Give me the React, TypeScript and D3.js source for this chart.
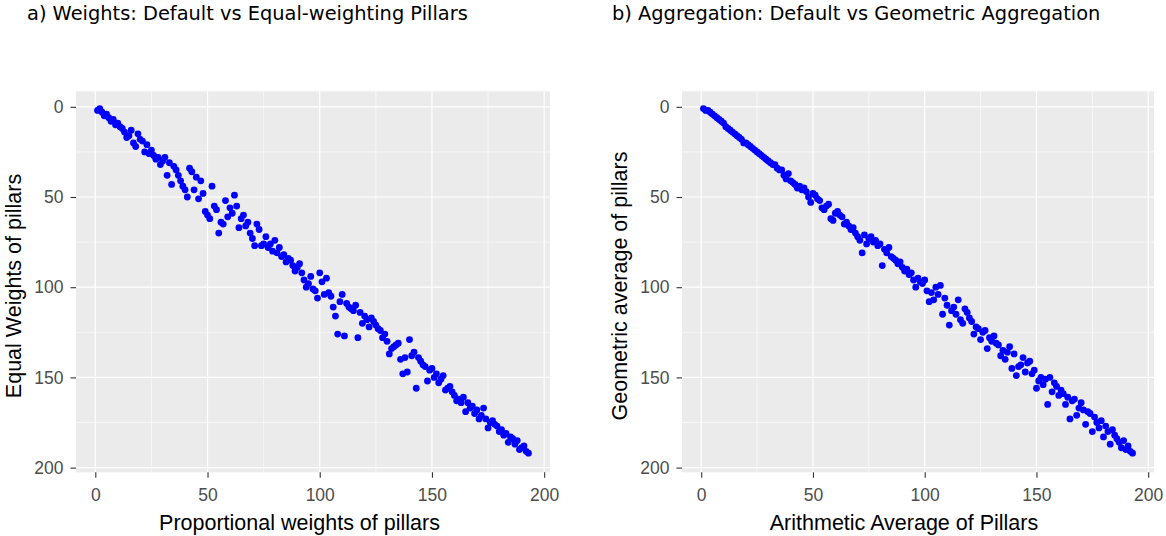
import { useRef, useEffect } from 'react'
import * as d3 from 'd3'

// rank of each country under the default (arithmetic, proportional) index
const defaultRanks = [
  1, 2, 3, 4, 5, 6, 7, 8, 9, 10, 11, 12, 13, 14, 15, 16, 17, 18, 19, 20,
  21, 22, 23, 24, 25, 26, 27, 28, 29, 30, 31, 32, 33, 34, 35, 36, 37, 38, 39, 40,
  41, 42, 43, 44, 45, 46, 47, 48, 49, 50, 51, 52, 53, 54, 55, 56, 57, 58, 59, 60,
  61, 62, 63, 64, 65, 66, 67, 68, 69, 70, 71, 72, 73, 74, 75, 76, 77, 78, 79, 80,
  81, 82, 83, 84, 85, 86, 87, 88, 89, 90, 91, 92, 93, 94, 95, 96, 97, 98, 99, 100,
  101, 102, 103, 104, 105, 106, 107, 108, 109, 110, 111, 112, 113, 114, 115, 116, 117, 118, 119, 120,
  121, 122, 123, 124, 125, 126, 127, 128, 129, 130, 131, 132, 133, 134, 135, 136, 137, 138, 139, 140,
  141, 142, 143, 144, 145, 146, 147, 148, 149, 150, 151, 152, 153, 154, 155, 156, 157, 158, 159, 160,
  161, 162, 163, 164, 165, 166, 167, 168, 169, 170, 171, 172, 173, 174, 175, 176, 177, 178, 179, 180,
  181, 182, 183, 184, 185, 186, 187, 188, 189, 190, 191, 192, 193,
]

// a) rank with equal-weighted pillars
const equalWeightRanks = [
  2, 1, 3, 5, 4, 6, 8, 7, 10, 9, 11, 12, 14, 17, 16, 13, 20, 22, 15, 18,
  19, 25, 21, 26, 24, 27, 29, 28, 32, 30, 28, 38, 31, 43, 33, 35, 38, 41, 44, 46,
  50, 34, 36, 46, 39, 51, 41, 48, 58, 60, 62, 44, 55, 57, 70, 64, 65, 52, 61, 56,
  59, 49, 55, 67, 62, 60, 66, 64, 70, 73, 77, 65, 68, 77, 76, 72, 78, 76, 80, 74,
  81, 78, 83, 82, 86, 84, 85, 88, 91, 89, 87, 92, 96, 100, 98, 94, 101, 102, 106, 92,
  97, 104, 95, 103, 105, 111, 116, 126, 108, 104, 127, 109, 111, 112, 113, 110, 128, 114, 120, 116,
  118, 122, 117, 119, 121, 123, 124, 128, 126, 130, 137, 134, 133, 132, 131, 140, 148, 139, 147, 129,
  138, 136, 156, 139, 141, 143, 144, 152, 146, 145, 150, 148, 153, 151, 149, 157, 156, 155, 158, 160,
  163, 162, 164, 161, 169, 164, 167, 166, 170, 168, 173, 171, 167, 173, 178, 175, 174, 176, 177, 180,
  179, 182, 181, 186, 183, 184, 187, 185, 190, 189, 188, 191, 192,
]

// b) rank with geometric aggregation
const geometricRanks = [
  1, 2, 2, 3, 4, 5, 6, 7, 8, 9, 11, 12, 13, 14, 15, 16, 17, 18, 20, 20,
  21, 22, 23, 24, 25, 26, 27, 28, 29, 30, 31, 32, 32, 34, 35, 35, 38, 40, 37, 41,
  42, 43, 45, 44, 46, 45, 47, 50, 53, 48, 49, 51, 52, 56, 57, 55, 54, 62, 63, 59,
  58, 60, 61, 65, 64, 66, 68, 67, 70, 72, 74, 81, 71, 76, 73, 72, 75, 74, 77, 76,
  88, 79, 81, 78, 83, 84, 85, 87, 86, 89, 91, 90, 93, 92, 96, 100, 95, 97, 98, 96,
  102, 108, 103, 107, 100, 104, 99, 115, 106, 110, 121, 113, 111, 115, 107, 118, 120, 112, 114, 117,
  119, 126, 122, 123, 129, 125, 124, 134, 128, 130, 127, 131, 132, 138, 135, 140, 136, 133, 145, 137,
  149, 144, 143, 139, 147, 142, 141, 148, 146, 156, 152, 150, 154, 151, 165, 150, 158, 153, 155, 160,
  157, 159, 165, 161, 173, 163, 162, 171, 167, 164, 168, 176, 169, 170, 180, 172, 175, 178, 174, 183,
  177, 180, 187, 179, 182, 184, 186, 189, 185, 190, 188, 191, 192,
]

const majorTicks = [0, 50, 100, 150, 200]
const minorTicks = [25, 75, 125, 175]

const titles = [
  "a) Weights: Default vs Equal-weighting Pillars",
  "b) Aggregation: Default vs Geometric Aggregation",
]
const xTitles = ["Proportional weights of pillars", "Arithmetic Average of Pillars"]
const yTitles = ["Equal Weights of pillars", "Geometric average of pillars"]

const App = () => {
  const svgRef = useRef<SVGSVGElement>(null)

  useEffect(() => {
    const width = 1166
    const height = 536
    const svg = d3.select(svgRef.current)
    svg.selectAll("*").remove()

    const top = 91.3
    const bottom = 472.3
    const panels = [
      { left: 76, right: 550, titleX: 27, yTitleX: 21, xTitleX: 299.5, ys: equalWeightRanks },
      { left: 682, right: 1154, titleX: 612, yTitleX: 627, xTitleX: 904, ys: geometricRanks },
    ]
    const domain = [-8.6, 202.6] // ggplot's 5% expansion of 1..193

    panels.forEach((p, k) => {
      const x = d3.scaleLinear().domain(domain).range([p.left, p.right])
      const y = d3.scaleLinear().domain(domain).range([top, bottom]) // reversed: 0 on top
      const g = svg.append("g")

      // title
      g.append("text")
        .attr("x", p.titleX)
        .attr("y", 20)
        .attr("font-family", "'DejaVu Sans', Verdana, sans-serif")
        .attr("font-size", 19.4)
        .attr("fill", "#000")
        .text(titles[k])

      // panel background
      g.append("rect")
        .attr("x", p.left)
        .attr("y", top)
        .attr("width", p.right - p.left)
        .attr("height", bottom - top)
        .attr("fill", "#ebebeb")

      // minor grid
      const grid = g.append("g").attr("stroke", "#fff")
      grid.selectAll(".vminor").data(minorTicks).join("line")
        .attr("x1", d => x(d)).attr("x2", d => x(d))
        .attr("y1", top).attr("y2", bottom)
        .attr("stroke-width", 0.6)
      grid.selectAll(".hminor").data(minorTicks).join("line")
        .attr("y1", d => y(d)).attr("y2", d => y(d))
        .attr("x1", p.left).attr("x2", p.right)
        .attr("stroke-width", 0.6)
      // major grid
      grid.append("g").selectAll("line").data(majorTicks).join("line")
        .attr("x1", d => x(d)).attr("x2", d => x(d))
        .attr("y1", top).attr("y2", bottom)
        .attr("stroke-width", 1.2)
      grid.append("g").selectAll("line").data(majorTicks).join("line")
        .attr("y1", d => y(d)).attr("y2", d => y(d))
        .attr("x1", p.left).attr("x2", p.right)
        .attr("stroke-width", 1.2)

      // points
      g.append("g")
        .selectAll("circle")
        .data(defaultRanks)
        .join("circle")
        .attr("cx", d => x(d))
        .attr("cy", (d, i) => y(p.ys[i]))
        .attr("r", 3.4)
        .attr("fill", "#0000ff")

      // x axis
      g.append("g")
        .attr("transform", `translate(0, ${bottom})`)
        .call(d3.axisBottom(x).tickValues(majorTicks).tickSize(5.5).tickPadding(11))
        .call(a => a.select(".domain").remove())
        .call(a => a.selectAll(".tick line").attr("stroke", "#333").attr("stroke-width", 1.1))
        .selectAll("text")
          .attr("fill", "#4d4d4d")
          .attr("font-family", "'Liberation Sans', Arial, sans-serif")
          .attr("font-size", 17.5)

      // y axis
      g.append("g")
        .attr("transform", `translate(${p.left}, 0)`)
        .call(d3.axisLeft(y).tickValues(majorTicks).tickSize(5.5).tickPadding(7))
        .call(a => a.select(".domain").remove())
        .call(a => a.selectAll(".tick line").attr("stroke", "#333").attr("stroke-width", 1.1))
        .selectAll("text")
          .attr("fill", "#4d4d4d")
          .attr("font-family", "'Liberation Sans', Arial, sans-serif")
          .attr("font-size", 17.5)

      // axis titles
      g.append("text")
        .attr("x", p.xTitleX)
        .attr("y", 530)
        .attr("text-anchor", "middle")
        .attr("font-family", "'Liberation Sans', Arial, sans-serif")
        .attr("font-size", 21.5)
        .attr("fill", "#000")
        .text(xTitles[k])

      g.append("text")
        .attr("transform", `translate(${p.yTitleX}, 286) rotate(-90)`)
        .attr("text-anchor", "middle")
        .attr("font-family", "'Liberation Sans', Arial, sans-serif")
        .attr("font-size", 21.5)
        .attr("fill", "#000")
        .text(yTitles[k])
    })

    svg.attr("width", width).attr("height", height)
  }, [])

  return (
    <svg
      ref={svgRef}
      width={1166}
      height={536}
      style={{ position: "absolute", left: 0, top: 0, background: "#fff" }}
    ></svg>
  )
}

export default App
